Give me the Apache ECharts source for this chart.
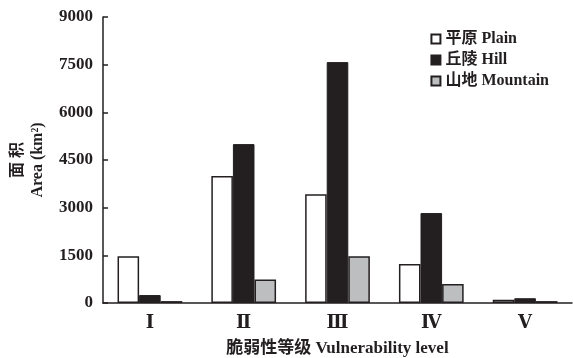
<!DOCTYPE html>
<html>
<head>
<meta charset="utf-8">
<script src="https://cdn.jsdelivr.net/npm/echarts@6/dist/echarts.min.js"></script>
<style>
html,body{margin:0;padding:0;background:#fff;}
#main{width:573px;height:358px;}
</style>
</head>
<body>
<div id="main"></div>
<script>
// 脆弱性等级
var levels = ['Ⅰ', 'Ⅱ', 'Ⅲ', 'Ⅳ', 'Ⅴ'];
// 面积 km2
var plain = [1470, 4000, 3420, 1230, 100];
var hill = [250, 5000, 7580, 2830, 150];
var mountain = [60, 740, 1470, 600, 60];
var yTicks = [0, 1500, 3000, 4500, 6000, 7500, 9000];

var font = '"Liberation Serif", "DejaVu Serif", "Noto Sans CJK SC", serif';

var myChart = echarts.init(document.getElementById('main'));
var option = {
  animation: false,
  textStyle: { fontFamily: font },
  legend: {
    orient: 'vertical',
    right: 19,
    top: 26,
    icon: 'rect',
    itemWidth: 9,
    itemHeight: 9,
    itemGap: 5,
    textStyle: { fontFamily: font, fontSize: 16, fontWeight: 'bold', color: '#231f20' },
    data: ['平原 Plain', '丘陵 Hill', '山地 Mountain']
  },
  grid: { left: 103, right: 1, top: 17, bottom: 55, outerBoundsMode: 'none' },
  xAxis: {
    type: 'category',
    data: levels,
    name: '脆弱性等级 Vulnerability level',
    nameLocation: 'middle',
    nameGap: 37,
    nameTextStyle: { fontFamily: font, fontSize: 17, fontWeight: 'bold', color: '#231f20' },
    axisLine: { lineStyle: { color: '#231f20', width: 1.5 } },
    axisTick: { inside: true, length: 5, lineStyle: { color: '#231f20', width: 1.5 } },
    axisLabel: { fontFamily: font, fontSize: 18, fontWeight: 'bold', color: '#231f20', margin: 11 }
  },
  yAxis: {
    type: 'value',
    min: 0,
    max: 9000,
    interval: 1500,
    name: '面 积\nArea (km²)',
    nameLocation: 'middle',
    nameRotate: 90,
    nameGap: 52,
    nameTextStyle: { fontFamily: font, fontSize: 16, fontWeight: 'bold', color: '#231f20', lineHeight: 20 },
    splitLine: { show: false },
    axisLine: { show: true, lineStyle: { color: '#231f20', width: 1.5 } },
    axisTick: { show: true, inside: true, length: 5, lineStyle: { color: '#231f20', width: 1.5 } },
    axisLabel: {
      fontFamily: font, fontSize: 17, fontWeight: 'bold', color: '#231f20', margin: 10,
      formatter: function (v) { return yTicks.indexOf(v) >= 0 ? String(v) : ''; }
    }
  },
  series: [
    {
      name: '平原 Plain', type: 'bar', data: plain,
      barGap: '0%', barCategoryGap: '31%',
      itemStyle: { color: '#ffffff', borderColor: '#231f20', borderWidth: 1.5 }
    },
    {
      name: '丘陵 Hill', type: 'bar', data: hill,
      itemStyle: { color: '#231f20', borderColor: '#231f20', borderWidth: 1 }
    },
    {
      name: '山地 Mountain', type: 'bar', data: mountain,
      itemStyle: { color: '#bcbec0', borderColor: '#231f20', borderWidth: 1.5 }
    }
  ]
};
myChart.setOption(option);
</script>
</body>
</html>
